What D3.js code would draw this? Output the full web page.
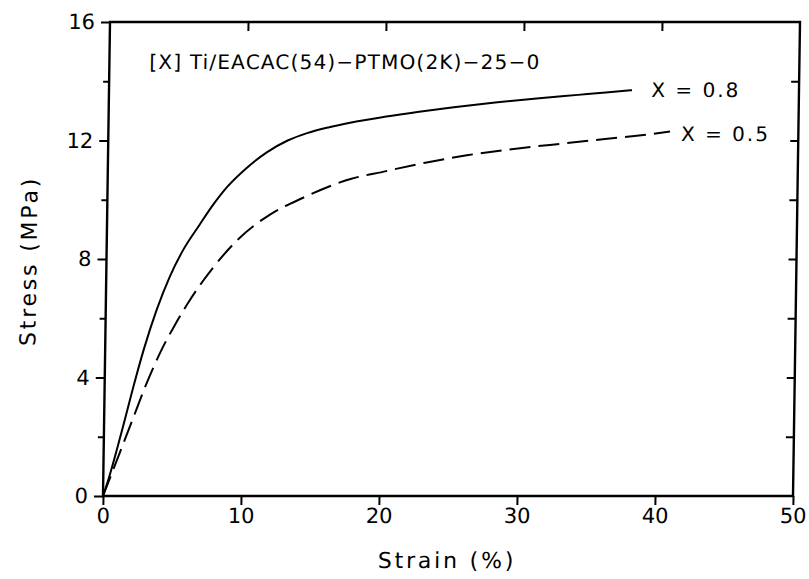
<!DOCTYPE html>
<html>
<head>
<meta charset="utf-8">
<script src="https://cdn.jsdelivr.net/npm/d3@7"></script>
<style>
  html, body { margin: 0; padding: 0; background: #fff; }
  svg { display: block; }
  text { font-family: "DejaVu Sans", "Liberation Sans", Arial, sans-serif; fill: #000; }
</style>
</head>
<body>
<svg id="chart" width="809" height="579"></svg>
<script>
// ---- data ----
const xTicks = [0, 10, 20, 30, 40, 50];
const yTicks = [0, 4, 8, 12, 16];
const yMinor = [2, 6, 10, 14];
const xLabel = "Strain (%)";
const yLabel = "Stress (MPa)";
const title = "[X] Ti/EACAC(54)\u2212PTMO(2K)\u221225\u22120";
const seriesNames = ["X = 0.8", "X = 0.5"];

const strain08 = [0, 0.4, 1.3, 2.2, 2.8, 3.7, 4.6, 5.6, 6.7, 7.7, 8.7, 10, 11.5, 13, 14.4, 16, 17.5, 20, 22.5, 25, 28, 31, 34, 36, 37.9];
const stress08 = [0, 0.6, 2.2, 3.9, 4.95, 6.3, 7.4, 8.35, 9.15, 9.85, 10.45, 11.05, 11.6, 12.0, 12.25, 12.45, 12.6, 12.8, 12.97, 13.12, 13.28, 13.42, 13.54, 13.62, 13.7];

const strain05 = [0, 0.8, 2.0, 2.95, 4.0, 5.0, 6.0, 7.0, 7.8, 9.6, 11.8, 14.1, 17.6, 20, 23, 26, 30, 33, 36, 39, 40.7];
const stress05 = [0, 1.0, 2.5, 3.7, 4.85, 5.75, 6.55, 7.25, 7.75, 8.7, 9.5, 10.05, 10.7, 10.95, 11.25, 11.5, 11.75, 11.9, 12.05, 12.2, 12.3];

// ---- layout ----
const svg = d3.select("#chart");
const L = 103, R = 793, T = 22, B = 496;
const x = d3.scaleLinear().domain([0, 50]).range([L, R]);
const y = d3.scaleLinear().domain([0, 16]).range([B, T]);

// the scanned original is slightly sheared (top edge shifted right)
const shearDeg = -Math.atan(7 / 474) * 180 / Math.PI;
const shift = -Math.tan(shearDeg * Math.PI / 180) * B;
const g = svg.append("g").attr("transform", `translate(${shift},0) skewX(${shearDeg})`);

const axisStroke = 2.4;
const fs = 21;
const fontFam = "DejaVu Sans, Liberation Sans, Arial, sans-serif";

// frame
g.append("rect")
  .attr("x", L).attr("y", T).attr("width", R - L).attr("height", B - T)
  .attr("fill", "none").attr("stroke", "#000").attr("stroke-width", axisStroke);

// bottom axis
const gx = g.append("g").attr("transform", `translate(0,${B})`)
  .call(d3.axisBottom(x).tickValues(xTicks).tickSize(9).tickPadding(3).tickFormat(d3.format("d")));
gx.select(".domain").remove();
gx.selectAll(".tick line").attr("stroke-width", 2);
gx.selectAll(".tick text").attr("font-size", fs).style("font-family", fontFam);

// left axis
const gy = g.append("g").attr("transform", `translate(${L},0)`)
  .call(d3.axisLeft(y).tickValues(yTicks).tickSize(9).tickPadding(6).tickFormat(d3.format("d")));
gy.select(".domain").remove();
gy.selectAll(".tick line").attr("stroke-width", 2);
gy.selectAll(".tick text").attr("font-size", fs).style("font-family", fontFam);

// left minor ticks
const gym = g.append("g").attr("transform", `translate(${L},0)`)
  .call(d3.axisLeft(y).tickValues(yMinor).tickSize(6).tickFormat(""));
gym.select(".domain").remove();
gym.selectAll(".tick line").attr("stroke-width", 2);

// top axis (inward ticks)
const gt = g.append("g").attr("transform", `translate(0,${T})`)
  .call(d3.axisBottom(x).tickValues(xTicks.slice(1, -1)).tickSize(9).tickFormat(""));
gt.select(".domain").remove();
gt.selectAll(".tick line").attr("stroke-width", 2);

// right axis (inward ticks)
const gr = g.append("g").attr("transform", `translate(${R},0)`)
  .call(d3.axisLeft(y).tickValues(yTicks.slice(1, -1).concat(yMinor)).tickSize(8).tickFormat(""));
gr.select(".domain").remove();
gr.selectAll(".tick line").attr("stroke-width", 2);

// axis titles
g.append("text")
  .attr("x", (L + R) / 2).attr("y", 568)
  .attr("text-anchor", "middle").attr("font-size", 22).attr("letter-spacing", 2.8)
  .text(xLabel);
g.append("text")
  .attr("transform", `translate(33,${(T + B) / 2 + 2}) rotate(-90)`)
  .attr("text-anchor", "middle").attr("font-size", 22).attr("letter-spacing", 2.8)
  .text(yLabel);

// title annotation
g.append("text")
  .attr("x", x(2.9)).attr("y", y(14.41)).attr("font-size", 20).attr("letter-spacing", 1.2)
  .text(title);

// curves
const line = d3.line().x(d => x(d[0])).y(d => y(d[1])).curve(d3.curveMonotoneX);
const d08 = strain08.map((s, i) => [s, stress08[i]]);
const d05 = strain05.map((s, i) => [s, stress05[i]]);

g.append("path").datum(d08).attr("d", line)
  .attr("fill", "none").attr("stroke", "#000").attr("stroke-width", 2);
g.append("path").datum(d05).attr("d", line)
  .attr("fill", "none").attr("stroke", "#000").attr("stroke-width", 2)
  .attr("stroke-dasharray", "21,8");

// series labels
g.append("text")
  .attr("x", x(39.3)).attr("y", y(13.75) + 8).attr("font-size", 20).attr("letter-spacing", 2)
  .text(seriesNames[0]);
g.append("text")
  .attr("x", x(41.5)).attr("y", y(12.25) + 8).attr("font-size", 20).attr("letter-spacing", 2)
  .text(seriesNames[1]);
</script>
</body>
</html>
